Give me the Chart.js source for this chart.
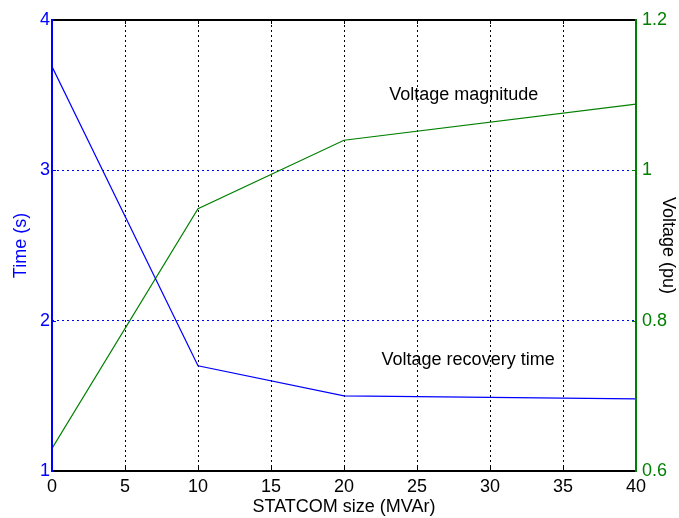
<!DOCTYPE html>
<html>
<head>
<meta charset="utf-8">
<script src="https://cdn.jsdelivr.net/npm/chart.js@4/dist/chart.umd.min.js"></script>
<style>
  html, body { margin: 0; padding: 0; background: #fff; }
  #wrap { width: 679px; height: 518px; }
</style>
</head>
<body>
<div id="wrap"><canvas id="c" width="679" height="518"></canvas></div>
<script>
// ---- data ----
const statcomSize = [0, 10, 20, 40];           // MVAr
const recoveryTime = [3.69, 1.70, 1.50, 1.48]; // s
const voltageMag = [0.630, 0.949, 1.040, 1.088]; // pu
const xTicks = [0, 5, 10, 15, 20, 25, 30, 35, 40];
const timeTicks = [1, 2, 3, 4];
const voltTicks = ['0.6', '0.8', '1', '1.2'];

const BLUE = '#0000ff';
const GREEN = '#008000';
const FONT = 'Liberation Sans, Arial, sans-serif';

const frame = {
  id: 'frame',
  afterDatasetsDraw(chart) {
    const {ctx, chartArea: a, scales} = chart;
    ctx.save();
    // inward tick marks
    ctx.lineWidth = 1;
    ctx.strokeStyle = '#000';
    xTicks.forEach(v => {
      const px = Math.round(scales.x.getPixelForValue(v)) + 0.5;
      ctx.beginPath();
      ctx.moveTo(px, a.bottom); ctx.lineTo(px, a.bottom - 4);
      ctx.moveTo(px, a.top); ctx.lineTo(px, a.top + 4);
      ctx.stroke();
    });
    ctx.strokeStyle = BLUE;
    timeTicks.forEach(v => {
      const py = Math.round(scales.y.getPixelForValue(v)) + 0.5;
      ctx.beginPath(); ctx.moveTo(a.left, py); ctx.lineTo(a.left + 4, py); ctx.stroke();
    });
    ctx.strokeStyle = GREEN;
    voltTicks.forEach(t => {
      const py = Math.round(scales.y1.getPixelForValue(parseFloat(t))) + 0.5;
      ctx.beginPath(); ctx.moveTo(a.right, py); ctx.lineTo(a.right - 4, py); ctx.stroke();
    });
    // borders
    ctx.lineWidth = 2;
    ctx.strokeStyle = '#000';
    ctx.beginPath();
    ctx.moveTo(a.left, a.top); ctx.lineTo(a.right, a.top);
    ctx.moveTo(a.left, a.bottom); ctx.lineTo(a.right, a.bottom);
    ctx.stroke();
    ctx.strokeStyle = BLUE;
    ctx.beginPath(); ctx.moveTo(a.left, a.top - 1); ctx.lineTo(a.left, a.bottom + 1); ctx.stroke();
    ctx.strokeStyle = GREEN;
    ctx.beginPath(); ctx.moveTo(a.right, a.top - 1); ctx.lineTo(a.right, a.bottom + 1); ctx.stroke();
    // annotations
    ctx.fillStyle = '#000';
    ctx.font = '18px ' + FONT;
    ctx.textAlign = 'center';
    ctx.textBaseline = 'middle';
    ctx.fillText('Voltage magnitude', scales.x.getPixelForValue(28.2), scales.y1.getPixelForValue(1.1));
    ctx.fillText('Voltage recovery time', scales.x.getPixelForValue(28.5), scales.y.getPixelForValue(1.74));
    ctx.restore();
  }
};

new Chart(document.getElementById('c'), {
  type: 'line',
  data: {
    datasets: [
      {
        label: 'Voltage recovery time',
        data: statcomSize.map((x, i) => ({x, y: recoveryTime[i]})),
        borderColor: BLUE, borderWidth: 1.2, pointRadius: 0, tension: 0, yAxisID: 'y'
      },
      {
        label: 'Voltage magnitude',
        data: statcomSize.map((x, i) => ({x, y: voltageMag[i]})),
        borderColor: GREEN, borderWidth: 1.2, pointRadius: 0, tension: 0, yAxisID: 'y1'
      }
    ]
  },
  options: {
    responsive: false,
    animation: false,
    layout: { padding: { top: 20, left: 0, right: 0, bottom: 0 } },
    plugins: { legend: { display: false }, tooltip: { enabled: false } },
    scales: {
      x: {
        type: 'linear', position: 'bottom', min: 0, max: 40,
        afterBuildTicks: s => { s.ticks = xTicks.map(v => ({value: v})); },
        afterFit: s => { s.height = 47; },
        ticks: { color: '#000', font: { size: 18, family: FONT }, padding: 5, maxRotation: 0 },
        grid: { color: '#000', lineWidth: 1, drawTicks: false },
        border: { display: false, dash: [2, 3] },
        title: { display: true, text: 'STATCOM size (MVAr)', color: '#000', font: { size: 18, family: FONT }, padding: { top: 0, bottom: 0 } }
      },
      y: {
        type: 'linear', position: 'left', min: 1, max: 4,
        afterBuildTicks: s => { s.ticks = timeTicks.map(v => ({value: v})); },
        afterFit: s => { s.width = 52; },
        ticks: { color: BLUE, font: { size: 18, family: FONT }, padding: 2 },
        grid: { color: BLUE, lineWidth: 1, drawTicks: false },
        border: { display: false, dash: [2, 3] },
        title: { display: true, text: 'Time (s)', color: BLUE, font: { size: 18, family: FONT }, padding: { top: 10, bottom: 0 } }
      },
      y1: {
        type: 'linear', position: 'right', min: 0.6, max: 1.2,
        afterBuildTicks: s => { s.ticks = voltTicks.map(t => ({value: parseFloat(t)})); },
        afterFit: s => { s.width = 43; },
        ticks: { color: GREEN, font: { size: 18, family: FONT }, padding: 6,
                 callback: (v) => voltTicks.find(t => Math.abs(parseFloat(t) - v) < 1e-6) || '' },
        grid: { display: false, drawTicks: false },
        border: { display: false },
        title: { display: true, text: 'Voltage (pu)', color: '#000', font: { size: 18, family: FONT }, padding: { top: 0, bottom: 0 } }
      }
    }
  },
  plugins: [frame]
});
</script>
</body>
</html>
